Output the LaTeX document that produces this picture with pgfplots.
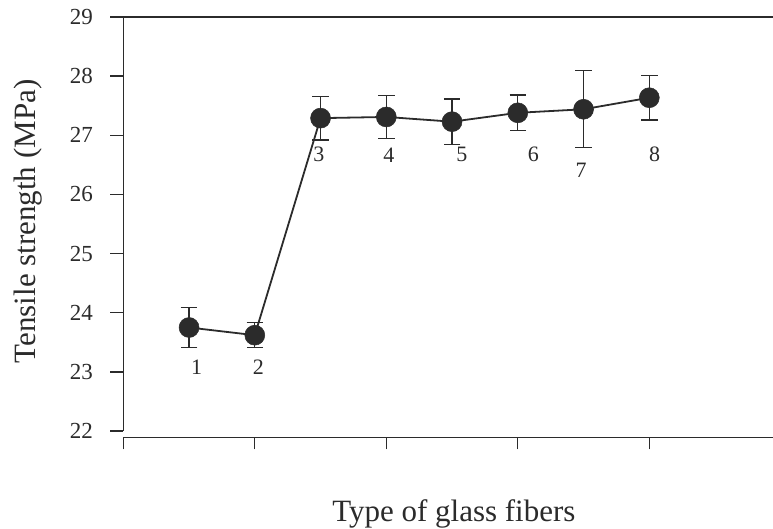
\documentclass[border=0pt]{standalone}
\usepackage{pgfplots}
\pgfplotsset{compat=1.18}
\usepackage{fontspec}
\setmainfont{Liberation Serif}
\definecolor{ink}{HTML}{2B2B2B}
\begin{document}
\begin{tikzpicture}
\useasboundingbox (-123.3pt,-98pt) rectangle (649.7pt,431pt);
\begin{axis}[
  at={(0pt,0pt)}, anchor=south west,
  scale only axis, width=657.5pt, height=414pt,
  xmin=0, xmax=5, ymin=22, ymax=29,
  axis x line*=top, axis y line*=left,
  axis line style={-, line width=1.4pt, ink},
  xtick=\empty,
  ytick={22,23,24,25,26,27,28,29},
  tick align=outside,
  major tick length=13pt,
  tick style={line width=1.3pt, ink},
  ticklabel style={font=\fontsize{23}{27}\selectfont, text=ink},
  yticklabel style={xshift=-14pt},
  /pgf/number format/assume math mode=true,
  clip=false,
]
\addplot[ink, line width=1.8pt, mark=*, mark size=10pt,
  mark options={fill=ink, draw=ink, line width=0.5pt},
  error bars/.cd, y dir=both, y explicit,
  error bar style={line width=1.3pt, ink},
  error mark options={line width=1.3pt, mark size=8.3pt, rotate=90, ink}]
coordinates {
  (0.5,23.75) +- (0,0.34)
  (1.0,23.62) +- (0,0.21)
  (1.5,27.29) +- (0,0.37)
  (2.0,27.31) +- (0,0.36)
  (2.5,27.23) +- (0,0.385)
  (3.0,27.38) +- (0,0.30)
  (3.5,27.44) +- (0,0.65)
  (4.0,27.635) +- (0,0.375)
};
\node[font=\fontsize{22}{26}\selectfont, text=ink] at (axis cs:0.558,23.07) {1};
\node[font=\fontsize{22}{26}\selectfont, text=ink] at (axis cs:1.027,23.08) {2};
\node[font=\fontsize{22}{26}\selectfont, text=ink] at (axis cs:1.488,26.67) {3};
\node[font=\fontsize{22}{26}\selectfont, text=ink] at (axis cs:2.02,26.67) {4};
\node[font=\fontsize{22}{26}\selectfont, text=ink] at (axis cs:2.574,26.67) {5};
\node[font=\fontsize{22}{26}\selectfont, text=ink] at (axis cs:3.118,26.68) {6};
\node[font=\fontsize{22}{26}\selectfont, text=ink] at (axis cs:3.481,26.41) {7};
\node[font=\fontsize{22}{26}\selectfont, text=ink] at (axis cs:4.04,26.68) {8};
\end{axis}
\begin{axis}[
  at={(0pt,-6.3pt)}, anchor=south west,
  scale only axis, width=657.5pt, height=10pt,
  xmin=0, xmax=5, ymin=0, ymax=1,
  axis x line*=bottom, axis y line=none,
  axis line style={-, line width=1.4pt, ink},
  xtick={0,1,2,3,4,5}, xticklabels={},
  tick align=outside,
  major tick length=12pt,
  tick style={line width=1.3pt, ink},
]
\end{axis}
\node[rotate=90, anchor=base, font=\fontsize{31}{36}\selectfont, text=ink] at (-87.6pt,209.5pt) {Tensile strength (MPa)};
\node[anchor=base, font=\fontsize{31}{36}\selectfont, text=ink] at (330.6pt,-90.7pt) {Type of glass fibers};
\end{tikzpicture}
\end{document}
